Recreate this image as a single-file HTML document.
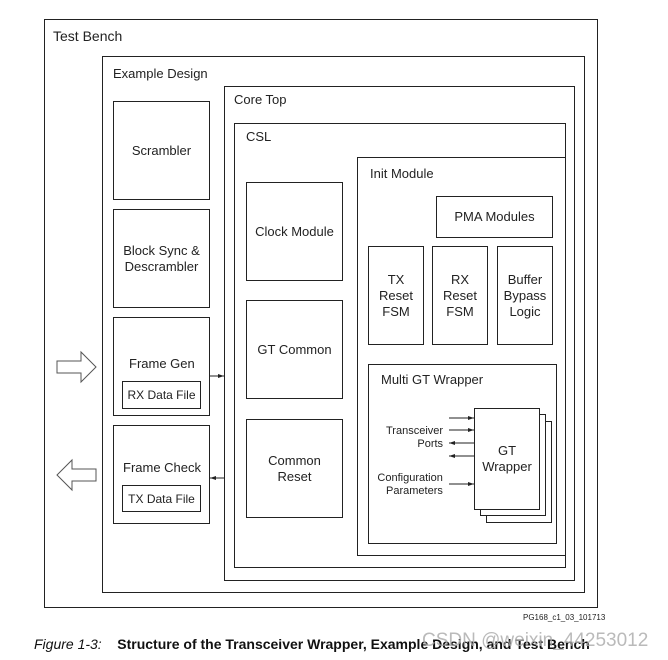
<!DOCTYPE html>
<html><head><style>
body{margin:0;width:668px;height:660px;background:#fff;position:relative;font-family:"Liberation Sans",Arial,sans-serif;overflow:hidden}
.b{position:absolute;border:1px solid #222;box-sizing:border-box;background:#fff}
.t{position:absolute;font-size:13px;color:#222;white-space:nowrap}
.c{display:flex;align-items:center;justify-content:center;text-align:center;font-size:13px;color:#222;line-height:16px}
</style></head><body>
<div class="b" style="left:44px;top:19px;width:554px;height:589px"></div>
<div class="t" style="left:53px;top:28px;font-size:14px">Test Bench</div>
<div class="b" style="left:102px;top:56px;width:483px;height:537px"></div>
<div class="t" style="left:113px;top:66px">Example Design</div>
<div class="b" style="left:224px;top:86px;width:351px;height:495px"></div>
<div class="t" style="left:234px;top:92px">Core Top</div>
<div class="b" style="left:234px;top:123px;width:332px;height:445px"></div>
<div class="t" style="left:246px;top:129px">CSL</div>
<div class="b" style="left:357px;top:157px;width:209px;height:399px"></div>
<div class="t" style="left:370px;top:166px">Init Module</div>

<div class="b c" style="left:113px;top:101px;width:97px;height:99px">Scrambler</div>
<div class="b c" style="left:113px;top:209px;width:97px;height:99px">Block Sync &amp;<br>Descrambler</div>
<div class="b" style="left:113px;top:317px;width:97px;height:99px"><div class="t" style="left:15px;top:38px">Frame Gen</div></div>
<div class="b c" style="left:122px;top:381px;width:79px;height:28px;font-size:12px">RX Data File</div>
<div class="b" style="left:113px;top:425px;width:97px;height:99px"><div class="t" style="left:9px;top:34px">Frame Check</div></div>
<div class="b c" style="left:122px;top:485px;width:79px;height:27px;font-size:12px">TX Data File</div>

<div class="b c" style="left:246px;top:182px;width:97px;height:99px">Clock Module</div>
<div class="b c" style="left:246px;top:300px;width:97px;height:99px">GT Common</div>
<div class="b c" style="left:246px;top:419px;width:97px;height:99px">Common<br>Reset</div>

<div class="b c" style="left:436px;top:196px;width:117px;height:42px">PMA Modules</div>
<div class="b c" style="left:368px;top:246px;width:56px;height:99px">TX<br>Reset<br>FSM</div>
<div class="b c" style="left:432px;top:246px;width:56px;height:99px">RX<br>Reset<br>FSM</div>
<div class="b c" style="left:497px;top:246px;width:56px;height:99px">Buffer<br>Bypass<br>Logic</div>

<div class="b" style="left:368px;top:364px;width:189px;height:180px"></div>
<div class="t" style="left:381px;top:372px">Multi GT Wrapper</div>
<div class="b" style="left:486px;top:421px;width:66px;height:102px"></div>
<div class="b" style="left:480px;top:414px;width:66px;height:102px"></div>
<div class="b c" style="left:474px;top:408px;width:66px;height:102px">GT<br>Wrapper</div>
<div class="t" style="left:386px;top:425px;font-size:11px;text-align:right;line-height:13px">Transceiver<br><span style="padding-left:30px">Ports</span></div>
<div class="t" style="left:375px;top:472px;font-size:11px;text-align:right;line-height:13px">Configuration<br><span style="padding-left:11px">Parameters</span></div>

<svg width="668" height="660" style="position:absolute;left:0;top:0" xmlns="http://www.w3.org/2000/svg">
<defs><marker id="a" markerWidth="6" markerHeight="6" refX="6" refY="3" orient="auto"><path d="M0,1 L6,3 L0,5z" fill="#222"/></marker></defs>
<g stroke="#222" stroke-width="1" fill="none">
<line x1="449" y1="418" x2="474" y2="418" marker-end="url(#a)"/>
<line x1="449" y1="430" x2="474" y2="430" marker-end="url(#a)"/>
<line x1="474" y1="443" x2="449" y2="443" marker-end="url(#a)"/>
<line x1="474" y1="456" x2="449" y2="456" marker-end="url(#a)"/>
<line x1="449" y1="484" x2="474" y2="484" marker-end="url(#a)"/>
<line x1="210" y1="376" x2="224" y2="376" marker-end="url(#a)"/>
<line x1="224" y1="478" x2="210" y2="478" marker-end="url(#a)"/>
<path d="M57,361 L81,361 L81,352 L96,367 L81,382 L81,373 L57,373 Z" stroke="#555"/>
<path d="M96,469 L72,469 L72,460 L57,475 L72,490 L72,481 L96,481 Z" stroke="#555"/>
</g>
</svg>
<div class="t" style="left:523px;top:613px;font-size:8px">PG168_c1_03_101713</div>
<div class="t" style="left:34px;top:636px;font-size:14px;color:#111"><i>Figure 1-3:</i>&nbsp;&nbsp;&nbsp;&nbsp;<b>Structure of the Transceiver Wrapper, Example Design, and Test Bench</b></div>
<div class="t" style="left:422px;top:630px;font-size:19px;color:#aaa;opacity:0.8">CSDN @weixin_44253012</div>
</body></html>
